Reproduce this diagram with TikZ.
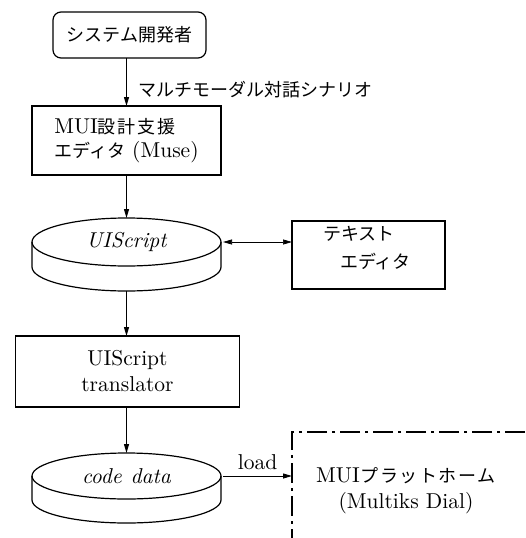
\documentclass[tikz,border=0pt]{standalone}
\usepackage{fontspec}
\setmainfont{lmroman10}[Extension=.otf, UprightFont=*-regular, ItalicFont=*-italic, BoldFont=*-bold]
\newfontfamily\jpf{Noto Sans CJK JP}
\usetikzlibrary{arrows.meta,shapes.geometric}
\newcommand\J[1]{{\fontsize{18}{22}\jpf #1}}
\begin{document}
\begin{tikzpicture}[x=1pt,y=-1pt, line width=1.2pt,
  box/.style={draw, rectangle, inner sep=0pt, outer sep=0pt, font=\fontsize{21.5}{24}\selectfont, align=center},
  drum/.style={draw, ellipse, inner sep=0pt, outer sep=0pt, minimum width=189pt, font=\fontsize{21.5}{24}\selectfont\itshape},
  lbl/.style={font=\fontsize{21.5}{24}\selectfont, inner sep=0pt},
  tip/.tip={Triangle[length=9pt,width=5pt]},
  arr/.style={-tip, line width=1pt},
  dashdot/.style={dash pattern=on 20pt off 5pt on 3pt off 5pt}]
\path[use as bounding box] (0,0) rectangle (526,538);

% nodes
\node[box, rounded corners=8pt, minimum width=153pt, minimum height=46pt] (dev) at (129.5,35) {\J{システム開発者}};
\node[lbl, anchor=west] (scen) at (138,90) {\J{マルチモーダル対話シナリオ}};
\node[box, minimum width=189pt, minimum height=69pt, align=left] (muse) at (126.5,140.5)
  {MUI\J{設\kern2pt 計\kern2pt 支\kern2pt 援}\\\J{エディタ} (Muse)};

\node[drum, minimum height=48pt] (u) at (126.5,242) {UIScript};
\draw (u.west) -- ++(0,25) arc[start angle=180, end angle=360, x radius=94.5pt, y radius=24pt] -- (u.east);
\coordinate (ub) at ([yshift=-25pt]u.south);

\node[box, minimum width=153pt, minimum height=68pt] (te) at (368.5,255) {};
\node[lbl, align=left] (tetext) at (367,248) {\J{テキスト}\\[4pt]\hspace{17pt}\J{エディタ}};

\node[box, minimum width=224pt, minimum height=71pt] (tr) at (127.5,371.5) {UIScript\\[2pt]translator};

\node[drum, minimum height=46pt] (cd) at (126.5,476) {code\hspace{9pt}data};
\draw (cd.west) -- ++(0,24) arc[start angle=180, end angle=360, x radius=94.5pt, y radius=23pt] -- (cd.east);

\node[draw, dashdot, inner sep=0pt, outer sep=0pt, anchor=north west, minimum width=320pt, minimum height=220pt] (plat) at (292,432) {};
\node[lbl, align=center] (plattext) at (406,491)
  {MUI\J{\kern1pt プ\kern1.5pt ラ\kern1.5pt ッ\kern1.5pt ト\kern1.5pt ホ\kern1.5pt ー\kern1.5pt ム}\\[2pt](Multiks Dial)};

% connectors
\draw[arr] (muse.north |- dev.south) -- (muse.north);
\draw[arr] (muse.south) -- (u.north);
\draw[tip-tip, line width=0.7pt] ([xshift=2pt]u.east) -- (u.east -| te.west);
\draw[arr] (ub) -- (ub |- tr.north);
\draw[arr] (tr.south -| cd.north) -- (cd.north);
\draw[arr] ([xshift=2pt]cd.east) -- (cd.east -| plat.west) node[lbl, midway, above=6pt] (load) {load};
\end{tikzpicture}
\end{document}
